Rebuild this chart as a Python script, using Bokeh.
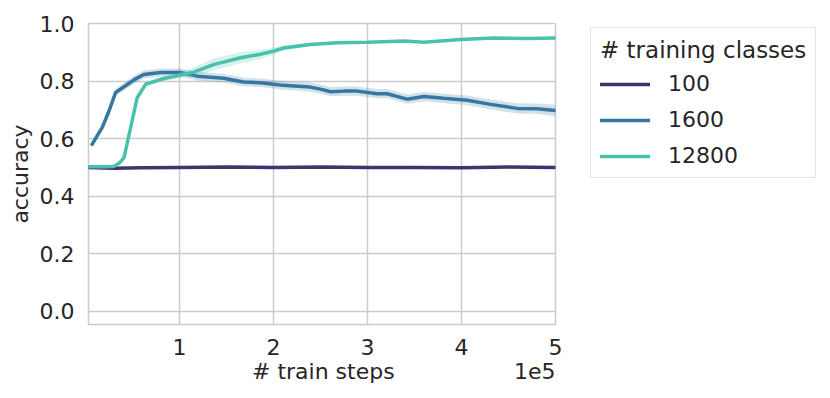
from bokeh.plotting import figure
from bokeh.models import (Legend, LegendItem, Range1d, FixedTicker, ColumnDataSource,
                          PrintfTickFormatter, LinearAxis, CustomJSTickFormatter)
from bokeh.embed import file_html
from bokeh.resources import INLINE

# ---- data (x in units of 1e5 train steps) ----
steps_100 = [0.032, 0.3, 0.6, 1.0, 1.5, 2.0, 2.5, 3.0, 3.5, 4.0, 4.5, 5.0]
acc_100 = [0.500, 0.497, 0.499, 0.500, 0.501, 0.500, 0.501, 0.500, 0.500, 0.499, 0.501, 0.500]
err_100 = [0.003, 0.003, 0.003, 0.003, 0.003, 0.003, 0.003, 0.003, 0.003, 0.003, 0.003, 0.003]

steps_1600 = [0.07, 0.18, 0.25, 0.32, 0.41, 0.52, 0.62, 0.80, 1.01, 1.19, 1.47, 1.68, 1.86,
              2.07, 2.22, 2.39, 2.50, 2.61, 2.75, 2.89, 3.10, 3.21, 3.42, 3.60, 3.81, 4.06,
              4.31, 4.59, 4.80, 5.0]
acc_1600 = [0.58, 0.64, 0.696, 0.76, 0.78, 0.805, 0.823, 0.83, 0.83, 0.817, 0.81, 0.797, 0.794,
            0.786, 0.783, 0.779, 0.772, 0.763, 0.765, 0.765, 0.756, 0.756, 0.737, 0.746, 0.740,
            0.733, 0.719, 0.705, 0.704, 0.698]
err_1600 = [0.005, 0.008, 0.01, 0.012, 0.013, 0.014, 0.014, 0.014, 0.014, 0.015, 0.015, 0.015, 0.015,
            0.015, 0.015, 0.016, 0.016, 0.016, 0.016, 0.016, 0.016, 0.016, 0.016, 0.016, 0.016,
            0.017, 0.017, 0.018, 0.018, 0.02]

steps_12800 = [0.032, 0.20, 0.30, 0.36, 0.41, 0.48, 0.55, 0.64, 0.80, 1.01, 1.15, 1.37, 1.65,
               1.86, 2.0, 2.11, 2.39, 2.68, 3.0, 3.39, 3.6, 3.99, 4.34, 4.70, 5.0]
acc_12800 = [0.502, 0.502, 0.503, 0.515, 0.534, 0.638, 0.742, 0.789, 0.806, 0.821, 0.831, 0.858,
             0.881, 0.893, 0.904, 0.915, 0.927, 0.933, 0.935, 0.939, 0.935, 0.944, 0.95, 0.948, 0.95]
err_12800 = [0.002, 0.002, 0.003, 0.005, 0.008, 0.01, 0.01, 0.008, 0.008, 0.01, 0.016, 0.02,
             0.02, 0.016, 0.012, 0.009, 0.006, 0.005, 0.004, 0.004, 0.004, 0.004, 0.004, 0.004, 0.004]

series_names = ["100", "1600", "12800"]
colors = ["#3b3570", "#3577a2", "#4ac2ab"]
x_ticks = [1, 2, 3, 4, 5]
y_ticks = [0.0, 0.2, 0.4, 0.6, 0.8, 1.0]
x_title = "# train steps"
x_scale_text = "1e5"
x_title_pos = [2.53, 4.78]   # label-centre positions along the x axis (title, scale note)

FONT = "DejaVu Sans"
TXT = "#262626"
FS = "22px"

p = figure(frame_width=467, frame_height=301, output_backend="svg", toolbar_location=None,
           x_range=Range1d(0.032, 5.0), y_range=Range1d(-0.046, 1.0),
           min_border_left=88, min_border_top=23, min_border_bottom=10, min_border_right=10)
p.background_fill_color = "white"
p.outline_line_color = "#cccccc"
p.outline_line_width = 1.5

# second "axis" carrying the x title and the 1e5 scale note on one line
title_axis = LinearAxis(ticker=FixedTicker(ticks=x_title_pos),
                        formatter=CustomJSTickFormatter(
                            args=dict(a=x_title, b=x_scale_text),
                            code="return index == 0 ? a : b;"))
p.add_layout(title_axis, "below")

for ax in (p.xaxis[0], p.yaxis[0], title_axis):
    ax.axis_line_color = None
    ax.major_tick_line_color = None
    ax.minor_tick_line_color = None
    ax.major_label_text_font = FONT
    ax.major_label_text_font_size = FS
    ax.major_label_text_color = TXT
    ax.axis_label_text_font = FONT
    ax.axis_label_text_font_size = FS
    ax.axis_label_text_color = TXT
    ax.axis_label_text_font_style = "normal"
    ax.major_label_standoff = 8

title_axis.major_label_standoff = -5
p.xaxis[0].ticker = FixedTicker(ticks=x_ticks)
p.yaxis[0].ticker = FixedTicker(ticks=y_ticks)
p.yaxis[0].formatter = PrintfTickFormatter(format="%.1f")
p.yaxis[0].axis_label = "accuracy"
p.yaxis[0].axis_label_standoff = 4
p.xgrid.grid_line_color = "#cccccc"
p.ygrid.grid_line_color = "#cccccc"
p.xgrid.grid_line_width = 1.5
p.ygrid.grid_line_width = 1.5

data = [(steps_100, acc_100, err_100), (steps_1600, acc_1600, err_1600),
        (steps_12800, acc_12800, err_12800)]
items = []
for (xs, ys, es), name, c in zip(data, series_names, colors):
    src = ColumnDataSource(dict(x=xs, y=ys,
                                lo=[a - e for a, e in zip(ys, es)],
                                hi=[a + e for a, e in zip(ys, es)]))
    p.varea(x="x", y1="lo", y2="hi", source=src, fill_color=c, fill_alpha=0.22)
    r = p.line(x="x", y="y", source=src, line_color=c, line_width=3.5, line_cap="round")
    items.append(LegendItem(label=name, renderers=[r]))

legend = Legend(items=items, title="# training classes", location=(35, 146))
legend.title_text_font = FONT
legend.title_text_font_size = "23px"
legend.title_text_color = TXT
legend.title_text_font_style = "normal"
legend.title_standoff = 8
legend.label_text_font = FONT
legend.label_text_font_size = FS
legend.label_text_color = TXT
legend.glyph_width = 50
legend.glyph_height = 22
legend.label_height = 22
legend.label_standoff = 18
legend.spacing = 11
legend.padding = 9
legend.margin = 0
legend.border_line_color = "#cccccc"
legend.border_line_width = 1.5
legend.background_fill_alpha = 1.0
p.add_layout(legend, "right")

open("out.html", "w").write(file_html(p, INLINE))
